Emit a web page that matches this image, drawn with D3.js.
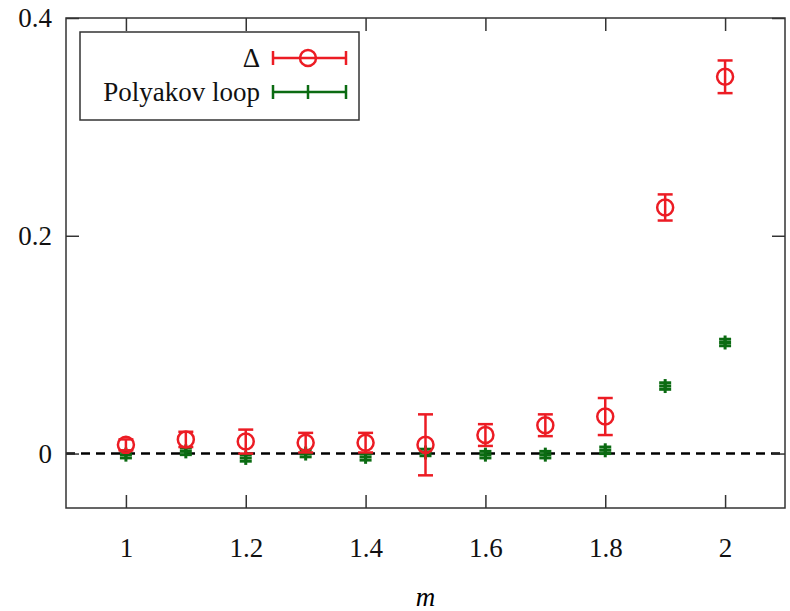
<!DOCTYPE html>
<html>
<head>
<meta charset="utf-8">
<script src="https://cdn.jsdelivr.net/npm/d3@7"></script>
<style>
  body { margin: 0; background: #fff; }
  svg text { font-family: "Liberation Serif", "Times New Roman", "DejaVu Serif", serif !important; }
</style>
</head>
<body>
<div id="chart"></div>
<script>
// data
const mValues = [1.0, 1.1, 1.2, 1.3, 1.4, 1.5, 1.6, 1.7, 1.8, 1.9, 2.0];
const deltaValues = [0.008, 0.013, 0.011, 0.010, 0.010, 0.008, 0.017, 0.026, 0.034, 0.226, 0.346];
const deltaErrors = [0.005, 0.007, 0.011, 0.009, 0.009, 0.028, 0.010, 0.010, 0.017, 0.012, 0.015];
const polyValues = [-0.001, 0.002, -0.004, 0.000, -0.003, 0.001, -0.001, -0.001, 0.003, 0.062, 0.102];
const polyErrors = [0.003, 0.003, 0.003, 0.003, 0.003, 0.003, 0.003, 0.003, 0.003, 0.003, 0.003];
const xTicks = [1, 1.2, 1.4, 1.6, 1.8, 2];
const yTicks = [0, 0.2, 0.4];
const seriesNames = ['\u0394', 'Polyakov loop'];

const width = 790, height = 611;
const margin = { top: 18, right: 5, bottom: 103, left: 66 };
const red = '#ec1c24', green = '#0b6b12';
const serif = '"Liberation Serif", "Times New Roman", serif';
const fontSize = '27px';

const svg = d3.select('#chart').append('svg')
  .attr('width', width).attr('height', height)
  .attr('font-family', serif);

const x = d3.scaleLinear().domain([0.9, 2.1]).range([margin.left, width - margin.right]);
const y = d3.scaleLinear().domain([-0.05, 0.4]).range([height - margin.bottom, margin.top]);

// zero line
svg.append('line')
  .attr('x1', x(0.9)).attr('x2', x(2.1))
  .attr('y1', y(0)).attr('y2', y(0))
  .attr('stroke', '#000').attr('stroke-width', 2.5)
  .attr('stroke-dasharray', '9,6');

// axes with inner ticks, mirrored
const tickLen = 13;
const axisStyle = g => {
  g.attr('font-family', serif);
  g.select('.domain').remove();
  g.selectAll('.tick line').attr('stroke', '#333').attr('stroke-width', 1.5);
  g.selectAll('.tick text').attr('fill', '#111').style('font-size', fontSize);
};
svg.append('g')
  .attr('transform', `translate(0,${height - margin.bottom})`)
  .call(d3.axisBottom(x).tickValues(xTicks).tickSize(-tickLen).tickPadding(30).tickFormat(d3.format('')))
  .call(axisStyle);
svg.append('g')
  .attr('transform', `translate(0,${margin.top})`)
  .call(d3.axisTop(x).tickValues(xTicks).tickSize(-tickLen).tickFormat(''))
  .call(axisStyle);
svg.append('g')
  .attr('transform', `translate(${margin.left},0)`)
  .call(d3.axisLeft(y).tickValues(yTicks).tickSize(-tickLen).tickPadding(14).tickFormat(d3.format('')))
  .call(axisStyle);
svg.append('g')
  .attr('transform', `translate(${width - margin.right},0)`)
  .call(d3.axisRight(y).tickValues(yTicks).tickSize(-tickLen).tickFormat(''))
  .call(axisStyle);

// frame
svg.append('rect')
  .attr('x', margin.left).attr('y', margin.top)
  .attr('width', width - margin.left - margin.right)
  .attr('height', height - margin.top - margin.bottom)
  .attr('fill', 'none').attr('stroke', '#333').attr('stroke-width', 1.5);

// x label
svg.append('text')
  .attr('x', (x(0.9) + x(2.1)) / 2).attr('y', 606)
  .attr('text-anchor', 'middle')
  .style('font-size', fontSize).style('font-style', 'italic')
  .text('m');

// error bar helper
function errorBars(vals, errs, color, capW) {
  const g = svg.append('g').attr('stroke', color).attr('stroke-width', 2.5).attr('fill', 'none');
  mValues.forEach((m, i) => {
    const cx = x(m), yt = y(vals[i] + errs[i]), yb = y(vals[i] - errs[i]);
    g.append('line').attr('x1', cx).attr('x2', cx).attr('y1', yt).attr('y2', yb);
    g.append('line').attr('x1', cx - capW).attr('x2', cx + capW).attr('y1', yt).attr('y2', yt);
    g.append('line').attr('x1', cx - capW).attr('x2', cx + capW).attr('y1', yb).attr('y2', yb);
  });
  return g;
}

// Polyakov loop (green plus)
const gp = errorBars(polyValues, polyErrors, green, 6);
gp.attr('stroke-width', 3);
mValues.forEach((m, i) => {
  const cx = x(m), cy = y(polyValues[i]);
  gp.append('line').attr('x1', cx - 6).attr('x2', cx + 6).attr('y1', cy).attr('y2', cy);
  gp.append('line').attr('x1', cx).attr('x2', cx).attr('y1', cy - 7).attr('y2', cy + 7);
});

// Delta (red circles)
const gd = errorBars(deltaValues, deltaErrors, red, 7.5);
gd.selectAll('circle')
  .data(mValues)
  .enter().append('circle')
  .attr('cx', d => x(d))
  .attr('cy', (d, i) => y(deltaValues[i]))
  .attr('r', 8);

// legend
const leg = svg.append('g');
leg.append('rect')
  .attr('x', 80).attr('y', 32).attr('width', 279).attr('height', 88)
  .attr('fill', '#fff').attr('stroke', '#333').attr('stroke-width', 1.5);
const rows = [58, 92];
const colors = [red, green];
rows.forEach((ry, i) => {
  leg.append('text')
    .attr('x', 260).attr('y', ry + 9)
    .attr('text-anchor', 'end')
    .style('font-size', fontSize).attr('fill', '#111')
    .text(seriesNames[i]);
  const s = leg.append('g').attr('stroke', colors[i]).attr('stroke-width', 2.5).attr('fill', 'none');
  s.append('line').attr('x1', 273).attr('x2', 346).attr('y1', ry).attr('y2', ry);
  s.append('line').attr('x1', 273).attr('x2', 273).attr('y1', ry - 7).attr('y2', ry + 7);
  s.append('line').attr('x1', 346).attr('x2', 346).attr('y1', ry - 7).attr('y2', ry + 7);
  if (i === 0) {
    s.append('circle').attr('cx', 308).attr('cy', ry).attr('r', 8).attr('fill', 'none');
  } else {
    s.append('line').attr('x1', 308).attr('x2', 308).attr('y1', ry - 7).attr('y2', ry + 7);
  }
});
</script>
</body>
</html>
